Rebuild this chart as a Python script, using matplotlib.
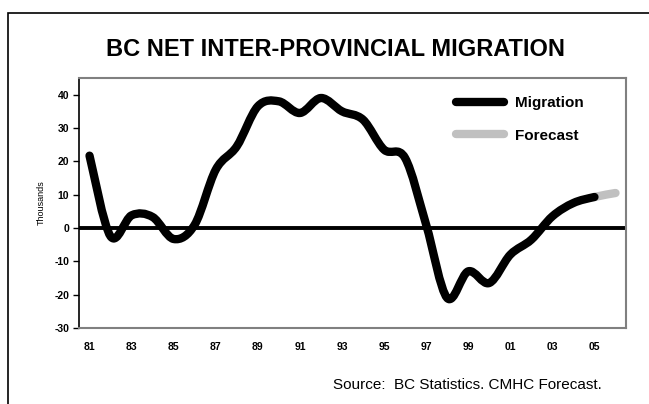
import matplotlib
matplotlib.use("Agg")
import matplotlib.pyplot as plt
from matplotlib.path import Path
from matplotlib.patches import PathPatch, Rectangle
from matplotlib.lines import Line2D
import numpy as np

plt.rcParams['font.family'] = ['Liberation Sans', 'DejaVu Sans']

# data (thousands of persons)
years = list(range(1981, 2006))
migration = [21.7, -2.5, 3.8, 3.3, -3.3, 1.0, 17.5, 24.5, 36.5, 38.0,
             34.5, 39.0, 35.0, 32.5, 23.5, 21.0, 1.0, -21.0, -13.0, -16.5,
             -8.0, -3.5, 3.5, 7.5, 9.3]
forecast_years = [2005, 2006]
forecast = [9.3, 10.5]

tick_years = list(range(1981, 2006, 2))
tick_labels = ["%02d" % (y % 100) for y in tick_years]
y_ticks = [-30, -20, -10, 0, 10, 20, 30, 40]


def smooth_segments(x, y):
    # excel-like smoothed line: catmull-rom converted to cubic bezier pieces
    x = np.asarray(x, float)
    y = np.asarray(y, float)
    n = len(x)
    segs = []
    for i in range(n - 1):
        i0 = max(i - 1, 0)
        i3 = min(i + 2, n - 1)
        c1 = (x[i] + (x[i + 1] - x[i0]) / 6, y[i] + (y[i + 1] - y[i0]) / 6)
        c2 = (x[i + 1] - (x[i3] - x[i]) / 6, y[i + 1] - (y[i3] - y[i]) / 6)
        segs.append([(x[i], y[i]), c1, c2, (x[i + 1], y[i + 1])])
    return segs


def bezier_path(segs):
    verts = [segs[0][0]]
    codes = [Path.MOVETO]
    for s in segs:
        verts += s[1:]
        codes += [Path.CURVE4] * 3
    return Path(verts, codes)


fig = plt.figure(figsize=(6.49, 4.04), dpi=100)
fig.patches.append(Rectangle((8 / 649, -0.1), 1.2, 1 - 13 / 404 + 0.1,
                             transform=fig.transFigure, fill=False,
                             edgecolor='black', lw=1.2))

ax = fig.add_axes([79 / 649, 1 - 328 / 404, 547 / 649, 250 / 404])

all_x = years + forecast_years[1:]
all_y = migration + forecast[1:]
segs = smooth_segments(all_x, all_y)
n_mig = len(years) - 1

ax.add_patch(PathPatch(bezier_path(segs[n_mig:]), fill=False,
                       edgecolor='#c0c0c0', lw=6, capstyle='round',
                       joinstyle='round', zorder=3))
ax.add_patch(PathPatch(bezier_path(segs[:n_mig]), fill=False,
                       edgecolor='black', lw=6, capstyle='round',
                       joinstyle='round', zorder=4))
ax.axhline(0, color='black', lw=2.8, zorder=2)

ax.set_xlim(1980.5, 2006.5)
ax.set_ylim(-30, 45)
ax.set_xticks(tick_years)
ax.set_xticklabels(tick_labels, fontsize=7.5, fontweight='bold')
ax.set_yticks(y_ticks)
ax.set_yticklabels([str(v) for v in y_ticks], fontsize=7.5, fontweight='bold')
ax.tick_params(axis='x', length=0, pad=10)
ax.tick_params(axis='y', length=4, width=1, pad=3, direction='out')
ax.set_ylabel("Thousands", fontsize=6.5, labelpad=6)

for side in ['top', 'right', 'bottom']:
    ax.spines[side].set_color('#808080')
    ax.spines[side].set_linewidth(1.5)
ax.spines['left'].set_color('black')
ax.spines['left'].set_linewidth(1.2)

handles = [Line2D([], [], color='black', lw=6, solid_capstyle='round'),
           Line2D([], [], color='#c0c0c0', lw=6, solid_capstyle='round')]
leg = ax.legend(handles, ["Migration", "Forecast"], loc='upper left',
                bbox_to_anchor=(0.690, 0.928), frameon=False,
                prop={'weight': 'bold', 'size': 11}, handlelength=3.1,
                handletextpad=0.72, labelspacing=1.22, borderpad=0,
                borderaxespad=0)

fig.text(335 / 649, 1 - 50 / 404, "BC NET INTER-PROVINCIAL MIGRATION",
         ha='center', va='center', fontsize=17, fontweight='bold')
fig.text(602 / 649, 1 - 385 / 404, "Source:  BC Statistics. CMHC Forecast.",
         ha='right', va='center', fontsize=11)

fig.savefig("out.png", dpi=100)
